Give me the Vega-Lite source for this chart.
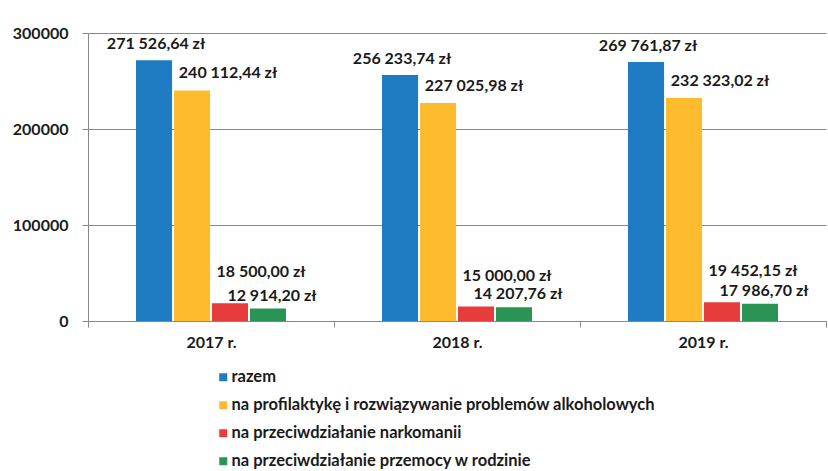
{
  "$schema": "https://vega.github.io/schema/vega-lite/v6.json",
  "width": 738,
  "height": 288,
  "autosize": {"type": "none"},
  "padding": {"left": 88, "top": 33, "right": 2, "bottom": 150},
  "background": "white",
  "config": {
    "view": {"stroke": null},
    "font": "Lato",
    "locale": {
      "number": {"decimal": ",", "thousands": " ", "grouping": [3], "currency": ["", " zł"]}
    }
  },
  "data": {
    "values": [
      {"rok": "2017 r.", "seria": "razem", "kwota": 271526.64},
      {"rok": "2017 r.", "seria": "na profilaktykę i rozwiązywanie problemów alkoholowych", "kwota": 240112.44},
      {"rok": "2017 r.", "seria": "na przeciwdziałanie narkomanii", "kwota": 18500.00},
      {"rok": "2017 r.", "seria": "na przeciwdziałanie przemocy w rodzinie", "kwota": 12914.20},
      {"rok": "2018 r.", "seria": "razem", "kwota": 256233.74},
      {"rok": "2018 r.", "seria": "na profilaktykę i rozwiązywanie problemów alkoholowych", "kwota": 227025.98},
      {"rok": "2018 r.", "seria": "na przeciwdziałanie narkomanii", "kwota": 15000.00},
      {"rok": "2018 r.", "seria": "na przeciwdziałanie przemocy w rodzinie", "kwota": 14207.76},
      {"rok": "2019 r.", "seria": "razem", "kwota": 269761.87},
      {"rok": "2019 r.", "seria": "na profilaktykę i rozwiązywanie problemów alkoholowych", "kwota": 232323.02},
      {"rok": "2019 r.", "seria": "na przeciwdziałanie narkomanii", "kwota": 19452.15},
      {"rok": "2019 r.", "seria": "na przeciwdziałanie przemocy w rodzinie", "kwota": 17986.70}
    ]
  },
  "encoding": {
    "x": {
      "field": "rok", "type": "nominal", "sort": null,
      "scale": {"paddingInner": 0, "paddingOuter": 0},
      "axis": {
        "title": null, "labelAngle": 0, "tickBand": "extent",
        "domainColor": "#888", "tickColor": "#888", "tickSize": 6,
        "labelFont": "Lato", "labelFontSize": 16, "labelFontWeight": "bold", "labelColor": "#1a1a1a",
        "labelPadding": 7, "grid": false
      }
    },
    "xOffset": {
      "field": "seria", "type": "nominal", "sort": null,
      "scale": {"range": [48, 198], "paddingInner": 0.05, "paddingOuter": 0}
    },
    "y": {
      "field": "kwota", "type": "quantitative",
      "scale": {"domain": [0, 300000], "nice": false},
      "axis": {
        "title": null, "values": [0, 100000, 200000, 300000], "format": "d",
        "domainColor": "#888", "tickColor": "#888", "tickSize": 6,
        "gridColor": "#888", "gridWidth": 1,
        "labelFont": "Lato", "labelFontSize": 16, "labelFontWeight": "bold", "labelColor": "#1a1a1a",
        "labelPadding": 14
      }
    }
  },
  "layer": [
    {
      "mark": {"type": "bar"},
      "encoding": {
        "color": {
          "field": "seria", "type": "nominal", "sort": null,
          "scale": {
            "domain": ["razem", "na profilaktykę i rozwiązywanie problemów alkoholowych", "na przeciwdziałanie narkomanii", "na przeciwdziałanie przemocy w rodzinie"],
            "range": ["#1f7bc2", "#fdbb2d", "#e63c3c", "#2a9454"]
          },
          "legend": {
            "title": null, "orient": "none", "legendX": 127, "legendY": 336,
            "direction": "vertical", "symbolType": "square", "symbolSize": 64,
            "symbolStrokeWidth": 0, "labelFont": "Lato", "labelFontSize": 16.5, "labelFontWeight": "bold",
            "labelColor": "#1a1a1a", "rowPadding": 11, "labelOffset": 0,
            "labelLimit": 600, "padding": 0
          }
        }
      }
    },
    {
      "transform": [{"filter": "datum.seria === 'razem'"}],
      "mark": {"type": "text", "dx": 2, "dy": -16, "fontSize": 16, "fontWeight": "bold", "color": "#1a1a1a", "baseline": "middle"},
      "encoding": {"text": {"field": "kwota", "type": "quantitative", "format": "$,.2f"}}
    },
    {
      "transform": [{"filter": "datum.seria === 'na profilaktykę i rozwiązywanie problemów alkoholowych'"}],
      "mark": {"type": "text", "dx": 36, "dy": -17, "fontSize": 16, "fontWeight": "bold", "color": "#1a1a1a", "baseline": "middle"},
      "encoding": {"text": {"field": "kwota", "type": "quantitative", "format": "$,.2f"}}
    },
    {
      "transform": [{"filter": "datum.seria === 'na przeciwdziałanie narkomanii'"}],
      "mark": {"type": "text", "dx": 31, "dy": -31, "fontSize": 16, "fontWeight": "bold", "color": "#1a1a1a", "baseline": "middle"},
      "encoding": {"text": {"field": "kwota", "type": "quantitative", "format": "$,.2f"}}
    },
    {
      "transform": [{"filter": "datum.seria === 'na przeciwdziałanie przemocy w rodzinie'"}],
      "mark": {"type": "text", "dx": 4, "dy": -13, "fontSize": 16, "fontWeight": "bold", "color": "#1a1a1a", "baseline": "middle"},
      "encoding": {"text": {"field": "kwota", "type": "quantitative", "format": "$,.2f"}}
    }
  ]
}
